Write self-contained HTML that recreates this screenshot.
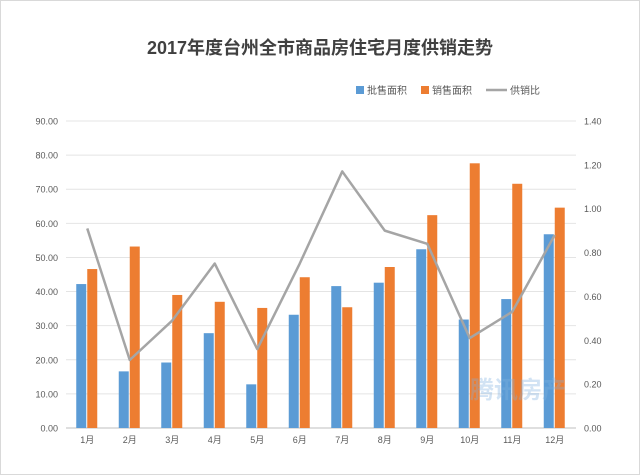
<!DOCTYPE html>
<html><head><meta charset="utf-8"><style>
html,body{margin:0;padding:0;background:#fff;}
svg{display:block;font-family:"Liberation Sans","Noto Sans CJK SC",sans-serif;}
</style></head><body>
<svg id="c" width="640" height="475" xmlns="http://www.w3.org/2000/svg">
<rect x="0.5" y="0.5" width="639" height="474" fill="#fff" stroke="#d9d9d9"/>
<text x="320" y="54" text-anchor="middle" font-size="18" font-weight="bold" fill="#404040">2017年度台州全市商品房住宅月度供销走势</text>
<rect x="356" y="86" width="8" height="8" fill="#5b9bd5"/>
<text x="367" y="94" font-size="10" fill="#595959">批售面积</text>
<rect x="421" y="86" width="8" height="8" fill="#ed7d31"/>
<text x="432" y="94" font-size="10" fill="#595959">销售面积</text>
<line x1="486" y1="90" x2="507" y2="90" stroke="#a5a5a5" stroke-width="2.5"/>
<text x="510" y="94" font-size="10" fill="#595959">供销比</text>
<g id="g"></g>
</svg>
<script>
var g=document.getElementById('g'),s='';
var B=[42.2,16.6,19.2,27.8,12.8,33.2,41.6,42.6,52.4,31.8,37.8,56.8];
var O=[46.6,53.2,39,37,35.2,44.2,35.4,47.2,62.4,77.6,71.6,64.6];
var R=[0.91,0.31,0.49,0.75,0.36,0.75,1.17,0.90,0.84,0.41,0.53,0.88];
var y0=428,k=3.411;
for(var i=0;i<=9;i++){var y=y0-i*10*k;
s+='<line x1="66" x2="576" y1="'+y+'" y2="'+y+'" stroke="'+(i?'#e4e4e4':'#bfbfbf')+'"/>';
s+='<text x="58" y="'+(y+3.5)+'" text-anchor="end" font-size="9" fill="#595959">'+(i*10).toFixed(2)+'</text>';}
for(var i=0;i<=7;i++){var y=y0-i*0.2*219.3;
s+='<text x="584" y="'+(y+3.5)+'" font-size="9" fill="#595959">'+(i*0.2).toFixed(2)+'</text>';}
var pts=[];
for(var i=0;i<12;i++){var c=66+42.5*(i+0.5);
s+='<rect x="'+(c-11)+'" y="'+(y0-B[i]*k)+'" width="10" height="'+B[i]*k+'" fill="#5b9bd5"/>';
s+='<rect x="'+c+'" y="'+(y0-O[i]*k)+'" width="10" height="'+O[i]*k+'" fill="#ed7d31"/>';
s+='<text x="'+c+'" y="443" text-anchor="middle" font-size="9" fill="#595959">'+(i+1)+'月</text>';
pts.push(c+','+(y0-R[i]*219.3));}
s+='<polyline points="'+pts.join(' ')+'" fill="none" stroke="#a5a5a5" stroke-width="2.5" stroke-linejoin="round"/>';
s+='<text x="470" y="398" font-size="24" fill="#7fb2e0" opacity="0.35" font-weight="bold">腾讯房产</text>';
g.innerHTML=s;
</script>
</body></html>
